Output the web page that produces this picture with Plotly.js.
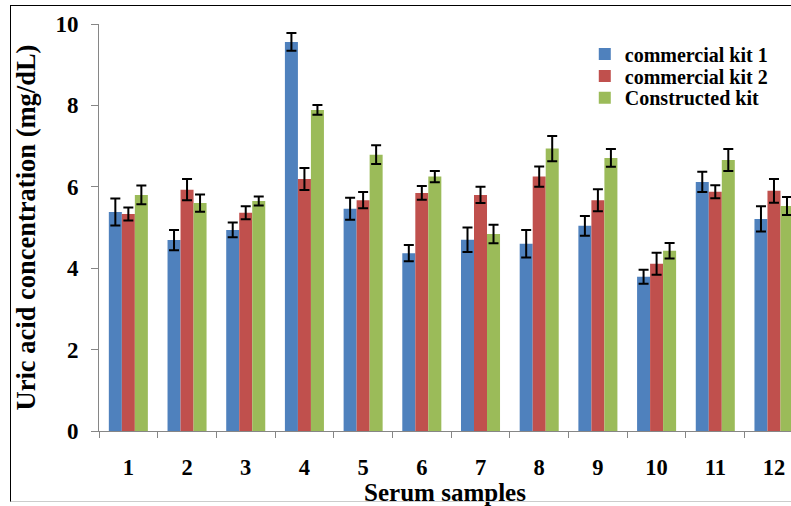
<!DOCTYPE html>
<html>
<head>
<meta charset="utf-8">
<script src="https://cdn.plot.ly/plotly-3.0.1.min.js"></script>
<style>
  html, body { margin: 0; padding: 0; background: #fff; overflow: hidden; }
  #wrap { position: relative; width: 791px; height: 506px; }
  #frame { position: absolute; left: 10px; top: 5px; width: 800px; height: 497px; border: 1px solid #000; border-bottom: 1px solid #ccc; box-sizing: border-box; pointer-events: none; }
  #chart { position: absolute; left: 0; top: 0; width: 791px; height: 506px; }
</style>
</head>
<body>
<div id="wrap">
  <div id="chart"></div>
  <div id="frame"></div>
</div>
<script>
const categories = ["1","2","3","4","5","6","7","8","9","10","11","12"];
const kit1 = [5.38, 4.69, 4.94, 9.56, 5.46, 4.37, 4.70, 4.60, 5.04, 3.79, 6.12, 5.21];
const kit1Err = [0.33, 0.25, 0.18, 0.22, 0.27, 0.20, 0.30, 0.34, 0.24, 0.17, 0.25, 0.31];
const kit2 = [5.33, 5.93, 5.36, 6.19, 5.67, 5.85, 5.80, 6.25, 5.67, 4.11, 5.88, 5.90];
const kit2Err = [0.16, 0.26, 0.16, 0.27, 0.20, 0.17, 0.20, 0.25, 0.27, 0.27, 0.16, 0.29];
const kitC = [5.80, 5.60, 5.65, 7.89, 6.79, 6.25, 4.84, 6.94, 6.71, 4.43, 6.66, 5.53];
const kitCErr = [0.23, 0.21, 0.11, 0.12, 0.23, 0.14, 0.23, 0.31, 0.22, 0.19, 0.27, 0.22];
const seriesNames = ["commercial kit 1", "commercial kit 2", "Constructed kit"];
const yTicks = [0, 2, 4, 6, 8, 10];

const FONT = "'Liberation Serif', 'Times New Roman', serif";
function errObj(arr) {
  return { type: "data", array: arr, visible: true, color: "#000", thickness: 2, width: 5 };
}
const colors = ["#4F81BD", "#C0504D", "#9BBB59"];
const data = [
  { type: "bar", name: seriesNames[0], x: categories, y: kit1, error_y: errObj(kit1Err), marker: { color: colors[0] }, legend: "legend" },
  { type: "bar", name: seriesNames[1], x: categories, y: kit2, error_y: errObj(kit2Err), marker: { color: colors[1] }, legend: "legend2" },
  { type: "bar", name: seriesNames[2], x: categories, y: kitC, error_y: errObj(kitCErr), marker: { color: colors[2] }, legend: "legend3" }
];
function legendAt(y) {
  return {
    x: 0.702, y: y, xanchor: "left", yanchor: "middle",
    bgcolor: "rgba(0,0,0,0)", borderwidth: 0,
    font: { family: FONT, size: 20, color: "#000", weight: "bold" },
    itemwidth: 30
  };
}
const layout = {
  width: 791, height: 506,
  margin: { l: 99, r: 0, t: 24, b: 75 },
  paper_bgcolor: "rgba(0,0,0,0)",
  plot_bgcolor: "#fff",
  barmode: "group",
  bargap: 0.335,
  bargroupgap: 0,
  showlegend: true,
  legend: legendAt(0.926),
  legend2: legendAt(0.872),
  legend3: legendAt(0.819),
  font: { family: FONT, color: "#000" },
  xaxis: {
    type: "category",
    range: [-0.5, 11.29],
    showline: true, linecolor: "#868686", linewidth: 1,
    ticks: "outside", tickson: "boundaries", ticklen: 6, tickcolor: "#868686",
    tickfont: { family: FONT, size: 22.5, color: "#000", weight: "bold" },
    ticklabelstandoff: 16,
    showgrid: false, zeroline: false,
    title: { text: "Serum samples", font: { family: FONT, size: 25, color: "#000", weight: "bold" }, standoff: 0 }
  },
  yaxis: {
    range: [0, 10],
    tickvals: yTicks,
    showline: true, linecolor: "#868686", linewidth: 1,
    ticks: "outside", ticklen: 7, tickcolor: "#868686",
    tickfont: { family: FONT, size: 23, color: "#000", weight: "bold" },
    ticklabelstandoff: 8,
    showgrid: false, zeroline: false,
    title: { text: "Uric acid concentration (mg/dL)", font: { family: FONT, size: 26.5, color: "#000", weight: "bold" }, standoff: 12 }
  }
};
Plotly.newPlot("chart", data, layout, { displayModeBar: false, staticPlot: true });
</script>
</body>
</html>
